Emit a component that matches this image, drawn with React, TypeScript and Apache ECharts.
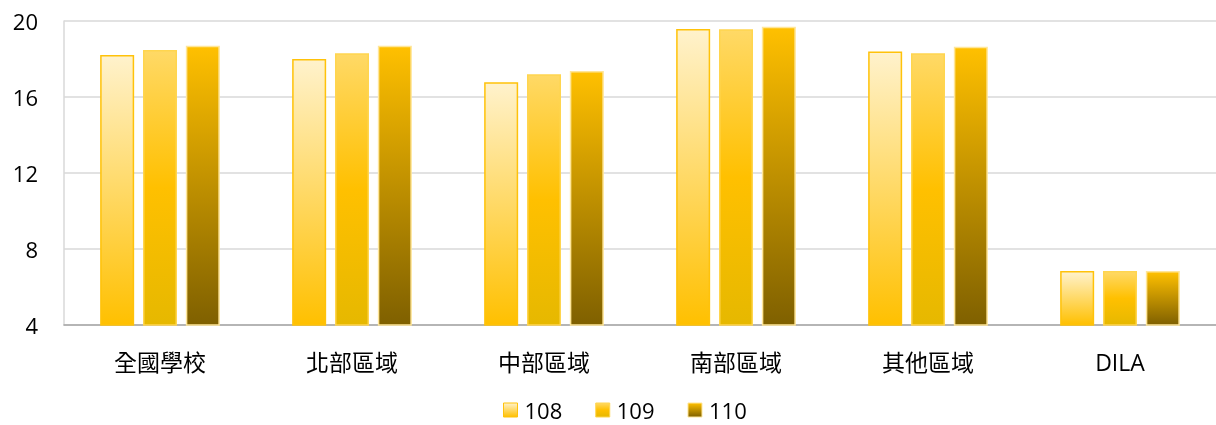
import React, { useEffect, useRef } from "react";
import * as echarts from "echarts";

const categories = ["全國學校", "北部區域", "中部區域", "南部區域", "其他區域", "DILA"];
const seriesNames = ["108", "109", "110"];
const values108 = [18.21, 18.0, 16.77, 19.58, 18.4, 6.84];
const values109 = [18.47, 18.3, 17.2, 19.56, 18.3, 6.84];
const values110 = [18.7, 18.7, 17.37, 19.7, 18.65, 6.84];
const yTicks = { min: 4, max: 20, interval: 4 };

const FONT = "'Open Sans', 'Noto Sans CJK TC', sans-serif";

const grad = (stops: [number, string][]) =>
  new echarts.graphic.LinearGradient(0, 0, 0, 1, stops.map(([offset, color]) => ({ offset, color })));

export default function App() {
  const ref = useRef<HTMLDivElement>(null);
  useEffect(() => {
    if (!ref.current) return;
    const chart = echarts.init(ref.current, undefined, { renderer: "svg" });
    const styles = [
      { fill: grad([[0, "#FFF2CC"], [1, "#FFC000"]]), border: "#FFC20A" },
      { fill: grad([[0, "#FFD966"], [0.5, "#FFC000"], [1, "#E6B800"]]), border: "#FFD54F" },
      { fill: grad([[0, "#FFC000"], [1, "#7F6000"]]), border: "#FFE699" },
    ];
    const data = [values108, values109, values110];
    chart.setOption({
      animation: false,
      grid: { left: 64, right: 0, top: 21, bottom: 100 },
      legend: {
        top: 399,
        left: 503,
        padding: 0,
        itemWidth: 14,
        itemHeight: 14,
        itemGap: 33,
        textStyle: { fontSize: 22, color: "#000", fontFamily: FONT, padding: [0, 0, 0, 2] },
        data: seriesNames.map((n, i) => ({
          name: n,
          icon: "rect",
          itemStyle: { color: styles[i].fill, borderColor: styles[i].border, borderWidth: 1 },
        })),
      },
      xAxis: {
        type: "category",
        data: categories,
        axisLine: { lineStyle: { color: "#A6A6A6", width: 1.5 } },
        axisTick: { show: false },
        axisLabel: { fontSize: 23, color: "#000", fontFamily: FONT, margin: 25 },
      },
      yAxis: {
        type: "value",
        min: yTicks.min,
        max: yTicks.max,
        interval: yTicks.interval,
        axisLine: { show: true, lineStyle: { color: "#D9D9D9", width: 1.5 } },
        axisTick: { show: false },
        splitLine: { lineStyle: { color: "#D9D9D9", width: 1.5 } },
        axisLabel: { fontSize: 22, color: "#000", fontFamily: FONT, margin: 26 },
      },
      series: seriesNames.map((n, i) => ({
        name: n,
        type: "bar",
        data: data[i],
        barWidth: 34,
        barGap: "26%",
        itemStyle: { color: styles[i].fill, borderColor: styles[i].border, borderWidth: 1.5 },
      })),
    });
    return () => chart.dispose();
  }, []);
  return <div ref={ref} style={{ position: "fixed", left: 0, top: 0, width: 1216, height: 425 }} />;
}
